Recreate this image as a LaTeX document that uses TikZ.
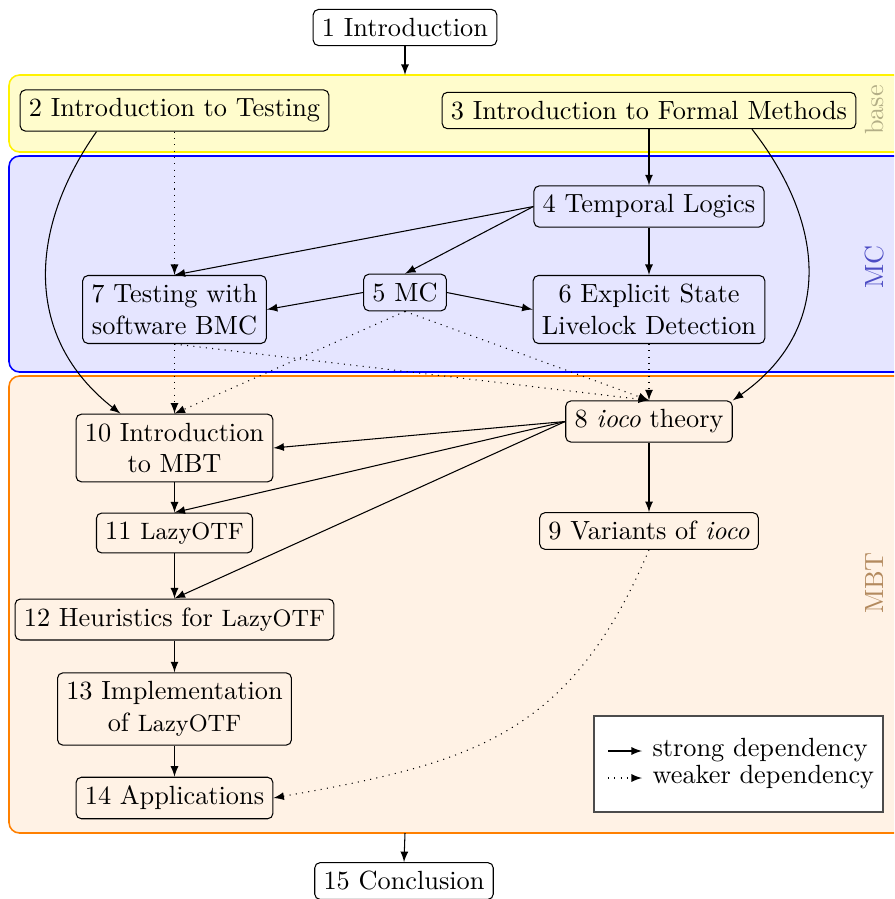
\documentclass[tikz,border=0pt]{standalone}
\usetikzlibrary{calc,arrows}
\definecolor{baselbl}{HTML}{B3AE86}
\definecolor{mclbl}{HTML}{4C4CC4}
\definecolor{mbtlbl}{HTML}{B38A5E}
\newcommand{\lzy}{{\small LazyOTF}}
\begin{document}
\begin{tikzpicture}[x=0.38pt,y=0.38pt,>=latex,
  box/.style={draw, rounded corners=2pt, align=center},
  weak/.style={->, dotted},
  band/.style={rounded corners=4pt, line width=0.6pt},
  bandlabel/.style={rotate=90}]
\clip (0,0) rectangle (894,-899);
\fill[white] (0,0) rectangle (894,-899);
% bands
\draw[band, draw=yellow, fill=yellow!20] (9,-75) rectangle (910,-152);
\draw[band, draw=blue, fill=blue!10] (9,-156) rectangle (910,-372);
\draw[band, draw=orange, fill=orange!10] (9,-376) rectangle (910,-833);
\node[bandlabel, text=baselbl] (lbase) at (875,-110) {base};
\node[bandlabel, text=mclbl] (lmc) at (875,-267) {MC};
\node[bandlabel, text=mbtlbl] (lmbt) at (875,-583) {MBT};
\coordinate (basetop) at (405,-75);
\coordinate (mbtbot) at (405,-833);
% nodes
\node[box] (n1) at (405,-27.5) {1 Introduction};
\node[box] (n2) at (174.5,-110.5) {2 Introduction to Testing};
\node[box] (n3) at (649,-110.5) {3 Introduction to Formal Methods};
\node[box] (n4) at (649,-206.5) {4 Temporal Logics};
\node[box] (n5) at (405,-292.5) {5 MC};
\node[box] (n6) at (649,-309.5) {6 Explicit State\\Livelock Detection};
\node[box] (n7) at (174.5,-309.5) {7 Testing with\\software BMC};
\node[box] (n8) at (649,-421.5) {8 \emph{ioco} theory};
\node[box] (n9) at (649,-531) {9 Variants of \emph{ioco}};
\node[box] (n10) at (174.5,-448) {10 Introduction\\to MBT};
\node[box] (n11) at (174.5,-533) {11 \lzy};
\node[box] (n12) at (174.5,-619.5) {12 Heuristics for \lzy};
\node[box] (n13) at (174.5,-709) {13 Implementation\\of \lzy};
\node[box] (n14) at (174.5,-798) {14 Applications};
\node[box] (n15) at (404,-881) {15 Conclusion};
% legend
\node[draw=black!70, fill=white, minimum width=289*0.38pt, minimum height=96*0.38pt] (legend) at (738.5,-764) {};
\node[anchor=west, inner sep=0pt] (lt1) at (652,-750) {strong dependency};
\node[anchor=west, inner sep=0pt] (lt2) at (652,-777) {weaker dependency};
\coordinate (ls1) at (608,-751);
\coordinate (le1) at (642,-751);
\coordinate (ls2) at (608,-778);
\coordinate (le2) at (642,-778);
\draw[->] (ls1) -- (le1);
\draw[weak] (ls2) -- (le2);
% edges
\draw[->] (n1.south) -- (basetop);
\draw[->] (mbtbot) -- (n15.north);
\draw[->] (n3.south) -- (n4.north);
\draw[->] (n4.south) -- (n6.north);
\draw[->] (n4.west) -- (n7.north);
\draw[->] (n4.west) -- (n5.north);
\draw[->] (n5.west) -- (n7.east);
\draw[->] (n5.east) -- (n6.west);
\draw[weak] (n2.south) -- (n7.north);
\draw[->] ($(n2.south)+(-78,0)$) to[out=235,in=142,looseness=1.1] ($(n10.north)+(-54,0)$);
\draw[->] ($(n3.south)+(103,0)$) to[out=308,in=35,looseness=1.15] (n8.north east);
\draw[weak] (n7.south) -- (n10.north);
\draw[weak] (n7.south) -- (n8.north);
\draw[weak] (n5.south) -- (n10.north);
\draw[weak] (n5.south) -- (n8.north);
\draw[weak] (n6.south) -- (n8.north);
\draw[->] (n8.west) -- (n10.east);
\draw[->] (n8.west) -- (n11.north);
\draw[->] (n8.west) -- (n12.north);
\draw[->] (n8.south) -- (n9.north);
\draw[->] (n10.south) -- (n11.north);
\draw[->] (n11.south) -- (n12.north);
\draw[->] (n12.south) -- (n13.north);
\draw[->] (n13.south) -- (n14.north);
\draw[weak] (n9.south) to[out=247,in=10,looseness=1.15] (n14.east);
\end{tikzpicture}
\end{document}
